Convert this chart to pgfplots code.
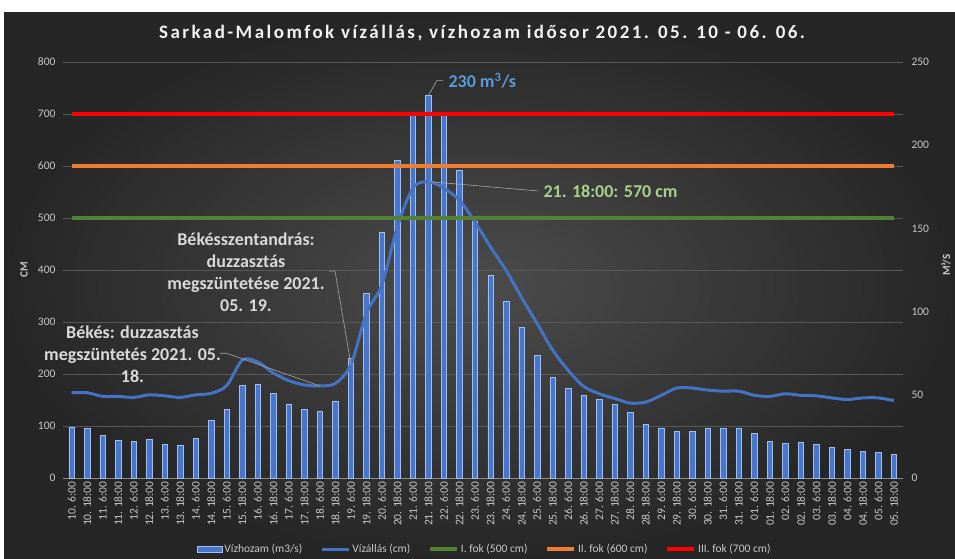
\documentclass[border=0pt]{standalone}
\usepackage{pgfplots}
\usepackage{pgfplotstable}
\pgfplotsset{compat=1.18}
\usepackage{fontspec}
\setmainfont{Carlito}
\newfontfamily\titlefont[LetterSpace=13]{Carlito}
\definecolor{bgin}{HTML}{4C4C4C}
\definecolor{bgout}{HTML}{262626}
\definecolor{gridc}{HTML}{585858}
\definecolor{tickc}{HTML}{C8C8C8}
\definecolor{barc}{HTML}{4677CF}
\definecolor{baredge}{HTML}{A3BEE8}
\definecolor{linec}{HTML}{4472C4}
\definecolor{greenc}{HTML}{548235}
\definecolor{orangec}{HTML}{ED7D31}
\definecolor{redc}{HTML}{FF0000}
\definecolor{annblue}{HTML}{5B9BD5}
\definecolor{anngreen}{HTML}{A9D18E}
\definecolor{anngray}{HTML}{D9D9D9}
\definecolor{leader}{HTML}{A6A6A6}

\pgfplotstableread{
idx q h
0 30.3 164
1 29.7 164
2 25.7 157
3 22.7 157
4 22.1 155
5 23.3 160
6 20.3 158
7 19.7 155
8 23.9 160
9 34.9 163
10 41.3 178
11 55.7 227
12 56.3 223
13 51.0 202
14 44.5 187
15 41.3 179
16 40.3 177
17 46.3 182
18 71.8 218
19 110.7 317
20 147.8 372
21 191.0 484
22 219 558
23 230 570
24 219 557
25 185 534
26 154.4 492
27 121.6 444
28 106.4 399
29 90.6 347
30 73.5 297
31 60.5 246
32 53.9 207
33 49.7 176
34 47.3 162
35 44.3 153
36 39.6 144
37 32.4 146
38 30.1 159
39 27.9 173
40 27.8 173
41 29.6 169
42 30.0 167
43 30.0 167
44 26.6 159
45 21.8 157
46 20.6 162
47 21.2 159
48 20.0 158
49 18.2 154
50 17.0 151
51 15.8 154
52 15.2 154
53 14.0 149
}\data

\begin{document}
\begin{tikzpicture}[x=1pt,y=1pt]
\useasboundingbox (0pt,0pt) rectangle (955pt,559pt);
\fill[white] (0pt,0pt) rectangle (955pt,559pt);
\shade[inner color=bgin, outer color=bgout] (4pt,0pt) rectangle (955pt,546pt);
\pgfplotsset{
  common/.style={
    at={(63pt,81pt)}, anchor=south west, scale only axis,
    width=840pt, height=416pt,
    xmin=-0.56, xmax=53.58,
    axis line style={draw=none},
    major tick length=0pt,
    /pgf/number format/assume math mode=true,
    clip=false,
  }
}
% base axis: grid, x labels, left ticks
\begin{axis}[common,
  ymin=0, ymax=800, ytick={0,100,...,800},
  ymajorgrids, grid style={color=gridc, line width=0.8pt},
  xtick={0,...,53},
  xticklabels={10. 6:00,10. 18:00,11. 6:00,11. 18:00,12. 6:00,12. 18:00,13. 6:00,13. 18:00,14. 6:00,14. 18:00,15. 6:00,15. 18:00,16. 6:00,16. 18:00,17. 6:00,17. 18:00,18. 6:00,18. 18:00,19. 6:00,19. 18:00,20. 6:00,20. 18:00,21. 6:00,21. 18:00,22. 6:00,22. 18:00,23. 6:00,23. 18:00,24. 6:00,24. 18:00,25. 6:00,25. 18:00,26. 6:00,26. 18:00,27. 6:00,27. 18:00,28. 6:00,28. 18:00,29. 6:00,29. 18:00,30. 6:00,30. 18:00,31. 6:00,31. 18:00,01. 6:00,01. 18:00,02. 6:00,02. 18:00,03. 6:00,03. 18:00,04. 6:00,04. 18:00,05. 6:00,05. 18:00},
  xticklabel style={rotate=90, anchor=east, text=tickc, font=\fontsize{11.5}{12}\selectfont},
  yticklabel style={text=tickc, font=\fontsize{11.5}{12}\selectfont, xshift=-4pt},
]
\draw[color=gridc!70!white, line width=0.8pt] (axis cs:-0.56,0) -- (axis cs:53.58,0);
\end{axis}
% bars: right axis
\begin{axis}[common,
  ymin=0, ymax=250, ytick={0,50,...,250},
  ytick pos=right, yticklabel pos=right, xtick=\empty,
  yticklabel style={text=tickc, font=\fontsize{11.5}{12}\selectfont, xshift=5pt},
]
\addplot[ybar, bar width=5.5pt, fill=barc, draw=baredge, line width=0.7pt] table[x=idx,y=q] {\data};
\coordinate (qpeak) at (axis cs:23,230);
\end{axis}
% lines
\begin{axis}[common,
  ymin=0, ymax=800, hide axis,
  legend columns=5,
  legend style={at={(0.502,-0.171)}, anchor=center, draw=none, fill=none,
    text=tickc, font=\fontsize{11.5}{12}\selectfont,
    /tikz/every even column/.append style={column sep=16pt}},
  legend image code/.code={\draw[#1] (0pt,0pt) -- (27pt,0pt);},
]
\addlegendimage{legend image code/.code={\draw[fill=barc, draw=baredge, line width=0.7pt] (0pt,-3pt) rectangle (25pt,3pt);}}
\addlegendentry{Vízhozam (m3/s)}
\addplot[color=linec, line width=3pt, smooth, tension=0.5] table[x=idx,y=h] {\data};
\addlegendentry{Vízállás (cm)}
\addplot[color=greenc, line width=3.5pt] coordinates {(0,500) (53,500)};
\addlegendentry{I. fok (500 cm)}
\addplot[color=orangec, line width=3.5pt] coordinates {(0,600) (53,600)};
\addlegendentry{II. fok (600 cm)}
\addplot[color=redc, line width=3.5pt] coordinates {(0,700) (53,700)};
\addlegendentry{III. fok (700 cm)}
\coordinate (hpeak) at (axis cs:23,570);
\coordinate (h18) at (axis cs:18,218);
\coordinate (h16) at (axis cs:16,177);
\end{axis}
% title
\node[text=white!95!black, font=\titlefont\bfseries\fontsize{19}{21}\selectfont] at (482pt,526pt) {Sarkad-Malomfok vízállás, vízhozam idősor 2021. 05. 10 - 06. 06.};
% axis titles
\node[rotate=90, text=tickc, font=\bfseries\fontsize{11}{12}\selectfont] at (24pt,289pt) {CM};
\node[rotate=90, text=tickc, font=\bfseries\fontsize{11}{12}\selectfont] at (946pt,294pt) {M³/S};
% annotations
\draw[leader, line width=0.6pt] (qpeak) -- (436.7pt,478.3pt) -- (443pt,478.3pt);
\node[anchor=west, text=annblue, font=\bfseries\fontsize{18}{20}\selectfont] at (445pt,478.3pt) {230 m\textsuperscript{3}/s};
\draw[leader, line width=0.6pt] (hpeak) -- (538.3pt,368pt);
\node[anchor=west, text=anngreen, font=\bfseries\fontsize{18}{20}\selectfont] at (540pt,368pt) {21. 18:00: 570 cm};
\draw[leader, line width=0.6pt] (329pt,288pt) -- (335pt,288pt) -- (h18);
\node[align=center, text=anngray, font=\bfseries\fontsize{18}{22}\selectfont] at (246pt,286.5pt) {Békésszentandrás:\\duzzasztás\\megszüntetése 2021.\\05. 19.};
\draw[leader, line width=0.6pt] (220pt,205.7pt) -- (226.7pt,205.7pt) -- (h16);
\node[align=center, text=anngray, font=\bfseries\fontsize{18}{22}\selectfont] at (132.5pt,204.5pt) {Békés: duzzasztás\\megszüntetés 2021. 05.\\18.};
\end{tikzpicture}
\end{document}
